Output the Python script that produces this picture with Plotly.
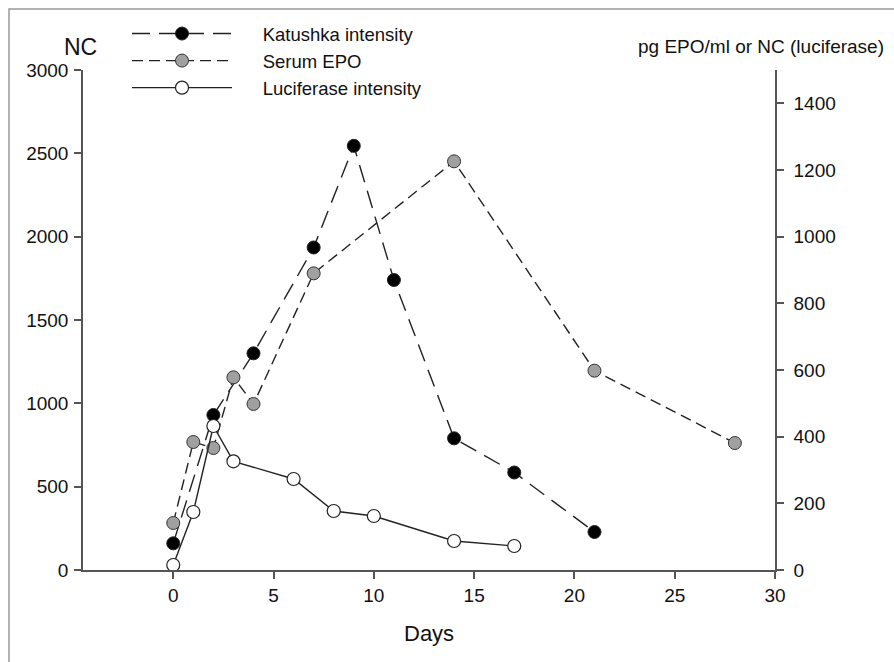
import plotly.graph_objects as go

# Katushka intensity (left axis, NC)
kat_days = [0, 2, 4, 7, 9, 11, 14, 17, 21]
kat_vals = [160, 930, 1300, 1935, 2545, 1740, 790, 585, 228]

# Serum EPO (right axis, pg EPO/ml)
epo_days = [0, 1, 2, 3, 4, 7, 14, 21, 28]
epo_vals = [141, 384, 366, 578, 498, 890, 1226, 598, 381]

# Luciferase intensity (right axis, NC)
luc_days = [0, 1, 2, 3, 6, 8, 10, 14, 17]
luc_vals = [15, 174, 432, 326, 273, 177, 162, 87, 72]

left_ticks = [0, 500, 1000, 1500, 2000, 2500, 3000]
right_ticks = [0, 200, 400, 600, 800, 1000, 1200, 1400]
x_ticks = [0, 5, 10, 15, 20, 25, 30]

FONT = "Liberation Sans, Arial, sans-serif"
LINEC = "#222222"
AXC = "#555555"
GAP = "\u00a0" * 5

fig = go.Figure()
fig.add_trace(go.Scatter(
    x=kat_days, y=kat_vals, name=GAP + "Katushka intensity", mode="lines+markers",
    line=dict(color=LINEC, width=1.4, dash="18px,9px"),
    marker=dict(size=13, color="#000000", line=dict(color="#222", width=1)),
    yaxis="y"))
fig.add_trace(go.Scatter(
    x=epo_days, y=epo_vals, name=GAP + "Serum EPO", mode="lines+markers",
    line=dict(color=LINEC, width=1.4, dash="11px,6px"),
    marker=dict(size=13, color="#a0a0a0", line=dict(color="#333", width=1)),
    yaxis="y2"))
fig.add_trace(go.Scatter(
    x=luc_days, y=luc_vals, name=GAP + "Luciferase intensity", mode="lines+markers",
    line=dict(color=LINEC, width=1.4),
    marker=dict(size=13, color="#ffffff", line=dict(color="#222", width=1.2)),
    yaxis="y2"))

L, R, T, B = 83, 119, 70, 92
W, H = 894, 662
pw, ph = W - L - R, H - T - B

def px(x):
    return (x - L) / pw

def py(y):
    return (H - B - y) / ph

fig.update_layout(
    width=W, height=H,
    margin=dict(l=L, r=R, t=T, b=B, pad=0),
    paper_bgcolor="white", plot_bgcolor="white",
    font=dict(family=FONT, size=19, color="#111"),
    showlegend=True,
    legend=dict(x=px(127), y=py(15), xanchor="left", yanchor="top",
                bgcolor="rgba(0,0,0,0)", itemwidth=100,
                font=dict(size=18.5, family=FONT, color="#111"),
                tracegroupgap=0),
    xaxis=dict(range=[-4.5, 30], tickvals=x_ticks, showgrid=False, zeroline=False,
               showline=True, linecolor=AXC, linewidth=1.5,
               ticks="outside", ticklen=7, tickwidth=1.5, tickcolor=AXC,
               tickfont=dict(size=19, family=FONT, color="#111")),
    yaxis=dict(range=[0, 3000], tickvals=left_ticks, showgrid=False, zeroline=False,
               showline=True, linecolor=AXC, linewidth=1.5,
               ticks="outside", ticklen=7, tickwidth=1.5, tickcolor=AXC,
               ticklabelstandoff=2,
               tickfont=dict(size=19, family=FONT, color="#111")),
    yaxis2=dict(range=[0, 1500], tickvals=right_ticks, overlaying="y", side="right",
                showgrid=False, zeroline=False,
                showline=True, linecolor=AXC, linewidth=1.5,
                ticks="outside", ticklen=7, tickwidth=1.5, tickcolor=AXC,
                ticklabelstandoff=6,
                tickfont=dict(size=19, family=FONT, color="#111")),
    annotations=[
        dict(text="NC", x=px(80), y=py(47), xref="paper", yref="paper",
             showarrow=False, xanchor="center", yanchor="middle",
             font=dict(size=23, family=FONT, color="#111")),
        dict(text="pg EPO/ml or NC (luciferase)", x=px(761), y=py(47),
             xref="paper", yref="paper", showarrow=False,
             xanchor="center", yanchor="middle",
             font=dict(size=19, family=FONT, color="#111")),
        dict(text="Days", x=px(429), y=py(633), xref="paper", yref="paper",
             showarrow=False, xanchor="center", yanchor="middle",
             font=dict(size=22, family=FONT, color="#111")),
    ],
    shapes=[
        dict(type="rect", xref="paper", yref="paper",
             x0=px(9), x1=px(905), y0=py(680), y1=py(9),
             line=dict(color="#999999", width=1.5), layer="below"),
    ],
)

fig.write_html("out.html", config={"displayModeBar": False},
               post_script="document.body.style.margin='0';")
